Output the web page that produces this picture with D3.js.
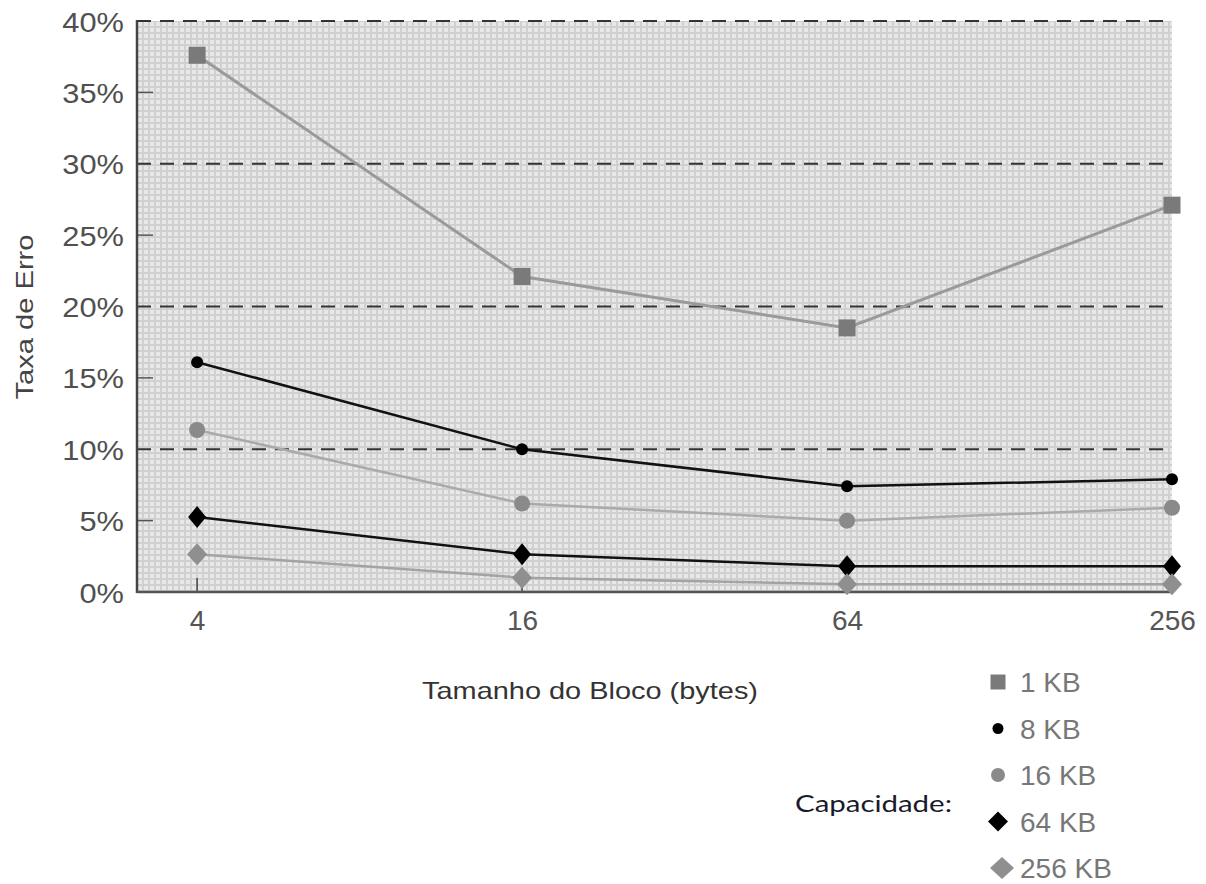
<!DOCTYPE html>
<html>
<head>
<meta charset="utf-8">
<script src="https://cdn.jsdelivr.net/npm/d3@7/dist/d3.min.js"></script>
<style>
  body { margin: 0; background: #fff; }
  svg { display: block; }
</style>
</head>
<body>
<div id="chart"></div>
<script>
// chart data
const blockSizes = ["4", "16", "64", "256"]
const capacities = ["1 KB", "8 KB", "16 KB", "64 KB", "256 KB"]
const errorRates = {
    "1 KB":   [37.6, 22.1, 18.5, 27.1],
    "8 KB":   [16.1, 10.0, 7.4, 7.9],
    "16 KB":  [11.35, 6.2, 5.0, 5.9],
    "64 KB":  [5.25, 2.65, 1.8, 1.8],
    "256 KB": [2.65, 1.0, 0.55, 0.55]
}
const yTicks = [0, 5, 10, 15, 20, 25, 30, 35, 40]
const dashedLines = [10, 20, 30, 40]

// diamond drawn as a path (a bit taller than wide, like the original)
const diamond = (w, h) => `M0,${-h}L${w},0L0,${h}L${-w},0Z`
const square = s => `M${-s},${-s}H${s}V${s}H${-s}Z`
const circle = r => d3.arc()({ innerRadius: 0, outerRadius: r, startAngle: 0, endAngle: 2 * Math.PI })

// look of each series
const seriesStyle = {
    "1 KB":   { line: "#9a9a9a", fill: "#7a7a7a", marker: square(8.5), legend: square(7.5), width: 3 },
    "8 KB":   { line: "#111", fill: "#000", marker: circle(6), legend: circle(5.5), width: 2.5 },
    "16 KB":  { line: "#aaaaaa", fill: "#8a8a8a", marker: circle(8), legend: circle(7), width: 2.5 },
    "64 KB":  { line: "#111", fill: "#000", marker: diamond(9, 11), legend: diamond(10, 10), width: 2.5 },
    "256 KB": { line: "#a3a3a3", fill: "#8f8f8f", marker: diamond(10, 11), legend: diamond(12, 11), width: 2.5 }
}

const width = 1206, height = 884
const plot = { left: 137, right: 1172, top: 21, bottom: 592 }
const font = "Liberation Sans, Arial, sans-serif"

// widen a text a little (the original font is broader than Arial)
const widen = (sel, k) => sel.each(function () {
    const w = this.getComputedTextLength()
    d3.select(this).attr("textLength", w * k).attr("lengthAdjust", "spacingAndGlyphs")
})

const svg = d3.select("#chart").append("svg")
    .attr("width", width)
    .attr("height", height)
    .style("font-family", font)

// background grid pattern
const pat = svg.append("defs").append("pattern")
    .attr("id", "grid")
    .attr("width", 6).attr("height", 6)
    .attr("patternUnits", "userSpaceOnUse")
    .attr("x", plot.left).attr("y", plot.top)
pat.append("rect").attr("width", 6).attr("height", 6).attr("fill", "#d0d0d0")
pat.append("rect").attr("x", 1).attr("y", 1).attr("width", 4).attr("height", 4).attr("fill", "#e8e8e8")

// scales
const x = d3.scaleLinear().domain([-0.185, 3]).range([plot.left, plot.right])
const y = d3.scaleLinear().domain([0, 40]).range([plot.bottom, plot.top])

svg.append("rect")
    .attr("x", plot.left).attr("y", plot.top)
    .attr("width", plot.right - plot.left)
    .attr("height", plot.bottom - plot.top)
    .attr("fill", "url(#grid)")

// dashed reference lines
svg.selectAll(".dash").data(dashedLines).enter().append("line")
    .attr("x1", plot.left).attr("x2", plot.right)
    .attr("y1", d => y(d)).attr("y2", d => y(d))
    .attr("stroke", "#333").attr("stroke-width", 2)
    .attr("stroke-dasharray", "14,9")

// Y axis
const yAxis = svg.append("g")
    .attr("transform", `translate(${plot.left},0)`)
    .call(d3.axisLeft(y).tickValues(yTicks).tickFormat(d => d + "%").tickSize(0).tickPadding(13))
yAxis.select(".domain").remove()
yAxis.selectAll("text")
    .attr("font-size", 28).attr("fill", "#505050")
    .attr("font-family", font)
    .attr("dy", "0.36em")
    .call(widen, 1.1)

// small inner ticks at odd multiples of 5
svg.selectAll(".ytick").data([5, 15, 25, 35]).enter().append("line")
    .attr("x1", plot.left).attr("x2", plot.left + 16)
    .attr("y1", d => y(d)).attr("y2", d => y(d))
    .attr("stroke", "#555").attr("stroke-width", 1.5)

// X axis labels
const xAxis = svg.append("g")
    .attr("transform", `translate(0,${plot.bottom})`)
    .call(d3.axisBottom(x).tickValues([0, 1, 2, 3]).tickFormat(i => blockSizes[i]).tickSize(0).tickPadding(18))
xAxis.select(".domain").remove()
xAxis.selectAll("text")
    .attr("font-size", 28).attr("fill", "#555")
    .attr("font-family", font)

// small upward ticks at the categories
svg.selectAll(".xtick").data([0, 1, 2, 3]).enter().append("line")
    .attr("x1", d => x(d)).attr("x2", d => x(d))
    .attr("y1", plot.bottom).attr("y2", plot.bottom - 14)
    .attr("stroke", "#444").attr("stroke-width", 1.5)

// axis lines
svg.append("line")
    .attr("x1", plot.left).attr("x2", plot.left)
    .attr("y1", plot.top - 1).attr("y2", plot.bottom + 1)
    .attr("stroke", "#444").attr("stroke-width", 2.5)
svg.append("line")
    .attr("x1", plot.left).attr("x2", plot.right)
    .attr("y1", plot.bottom).attr("y2", plot.bottom)
    .attr("stroke", "#555").attr("stroke-width", 2.5)

// series lines and markers
const line = d3.line().x((d, i) => x(i)).y(d => y(d))

capacities.forEach(cap => {
    const st = seriesStyle[cap]
    svg.append("path")
        .datum(errorRates[cap])
        .attr("d", line)
        .attr("fill", "none")
        .attr("stroke", st.line)
        .attr("stroke-width", st.width)
    svg.selectAll(null).data(errorRates[cap]).enter().append("path")
        .attr("transform", (d, i) => `translate(${x(i)},${y(d)})`)
        .attr("d", st.marker)
        .attr("fill", st.fill)
})

// titles
svg.append("text")
    .attr("transform", `translate(33,317) rotate(-90)`)
    .attr("text-anchor", "middle")
    .attr("font-size", 24).attr("fill", "#444")
    .attr("textLength", 165).attr("lengthAdjust", "spacingAndGlyphs")
    .text("Taxa de Erro")

svg.append("text")
    .attr("x", 590).attr("y", 699)
    .attr("text-anchor", "middle")
    .attr("font-size", 24).attr("fill", "#333")
    .attr("textLength", 336).attr("lengthAdjust", "spacingAndGlyphs")
    .text("Tamanho do Bloco (bytes)")

// legend
const legend = svg.append("g")
capacities.forEach((cap, i) => {
    const st = seriesStyle[cap]
    const ly = 682 + i * 46.5
    legend.append("path")
        .attr("transform", `translate(${i === 4 ? 1002 : 998},${ly})`)
        .attr("d", st.legend)
        .attr("fill", st.fill)
    legend.append("text")
        .attr("x", 1020).attr("y", ly + 10)
        .attr("font-size", 28).attr("fill", "#777")
        .text(cap)
})

svg.append("text")
    .attr("x", 795).attr("y", 812)
    .attr("font-size", 24).attr("fill", "#1a1a2a")
    .attr("font-family", "Lato, Open Sans, sans-serif")
    .attr("textLength", 157).attr("lengthAdjust", "spacingAndGlyphs")
    .text("Capacidade:")
</script>
</body>
</html>
